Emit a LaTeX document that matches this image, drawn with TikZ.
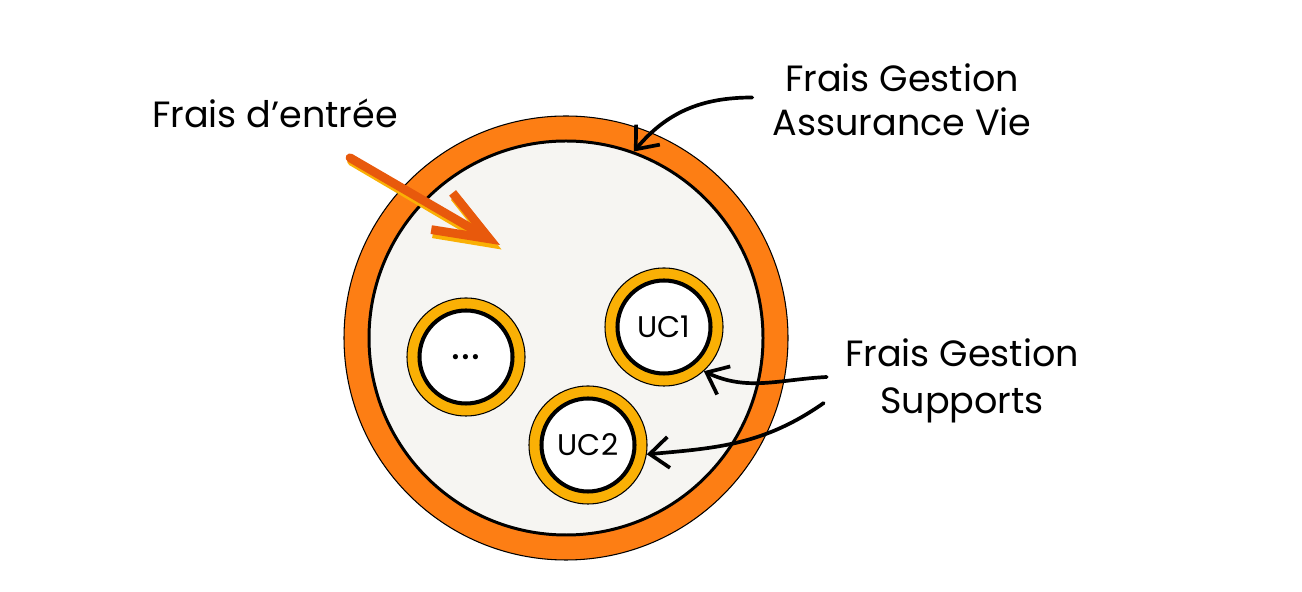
\documentclass[tikz,border=0pt]{standalone}
\usepackage{fontspec}
\setmainfont{Poppins}
\usepackage{tikz}
\usetikzlibrary{arrows.meta,calc}
\definecolor{ringorange}{HTML}{FD7E14}
\definecolor{ringyellow}{HTML}{FAB005}
\definecolor{arroworange}{HTML}{E8590C}
\definecolor{discgrey}{HTML}{F6F5F2}

\begin{document}
\begin{tikzpicture}[
  fraistext/.style={font=\fontsize{20.8}{25}\selectfont, align=center, inner sep=0pt},
  ucouter/.style={circle, fill=ringyellow, draw=black, line width=0.6pt, minimum size=2.36cm, inner sep=0pt},
  ucinner/.style={circle, fill=white, draw=black, line width=2.3pt, minimum size=1.86cm, inner sep=0pt, font=\fontsize{17}{20}\selectfont},
  pointer/.style={-{Straight Barb[length=0.38cm, width=0.62cm]}, line width=2.1pt, line cap=round},
  entree/.style={-{Straight Barb[length=1.1cm, width=0.85cm]}, line width=5pt, line cap=round}
]
\useasboundingbox (0,0) rectangle (26.04,11.84);

% contrat d'assurance vie
\node[circle, fill=ringorange, draw=black, line width=0.6pt, minimum size=8.88cm] (av) at (11.32,5.08) {};
\node[circle, fill=discgrey, draw=black, line width=1.7pt, minimum size=7.88cm] (avin) at (av.center) {};

% textes
\node[fraistext] (fde) at (5.50,9.58) {Frais d'entrée};
\node[fraistext] (fga) at (18.04,9.84) {Frais Gestion\\Assurance Vie};
\node[fraistext, font=\fontsize{20.8}{27}\selectfont] (fgs) at (19.24,4.22) {Frais Gestion\\Supports};

% frais d'entree
\coordinate (entree) at ($(avin.center)+(-1.32,1.86)$);
\draw[entree, draw=ringyellow] ([xshift=1.53cm, yshift=-0.67cm] fde.south) -- ([xshift=0.03cm, yshift=-0.09cm] entree);
\draw[entree, draw=arroworange] ([xshift=1.5cm, yshift=-0.6cm] fde.south) -- (entree);

% supports
\node[ucouter] (dots) at (9.32,4.70) {};
\node[ucinner, font=\fontsize{24}{24}\selectfont] (dotsin) at (dots.center) {.\kern0.5pt.\kern0.5pt.};
\node[ucouter] (uc1) at (13.28,5.30) {};
\node[ucinner] (uc1in) at (uc1.center) {UC1};
\node[ucouter] (uc2) at (11.76,2.94) {};
\node[ucinner] (uc2in) at (uc2.center) {UC2};

% fleches
\draw[pointer] ([xshift=-0.4cm, yshift=0.05cm] fga.west) to[out=180, in=50] (avin.70);
\draw[pointer] ([xshift=-0.36cm, yshift=0.08cm] fgs.west) to[out=183, in=-25] (uc1.-48);
\draw[pointer] ([xshift=-0.42cm, yshift=-0.44cm] fgs.west) to[out=215, in=5] (uc2.-9);
\end{tikzpicture}
\end{document}
